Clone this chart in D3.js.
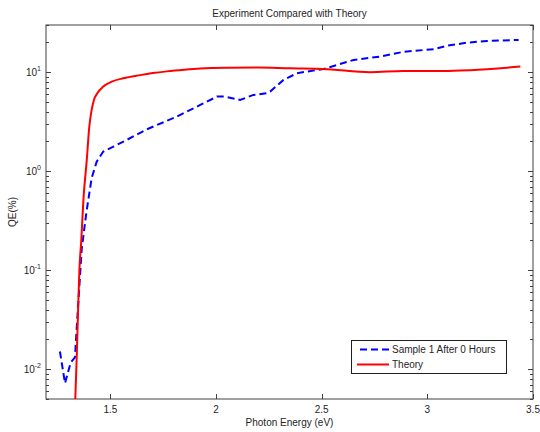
<!DOCTYPE html>
<html>
<head>
<meta charset="utf-8">
<script src="https://cdn.jsdelivr.net/npm/d3@7"></script>
<style>
  html, body { margin: 0; padding: 0; background: #fff; }
  svg { display: block; font-family: "Liberation Sans", Arial, sans-serif; }
</style>
</head>
<body>
<svg id="chart" width="540" height="432"></svg>
<script>
// Measured sample QE (%) vs photon energy (eV)
const sampleEnergy = [1.261, 1.285, 1.312, 1.332, 1.340, 1.351, 1.364, 1.384, 1.395, 1.411, 1.435, 1.466, 1.514, 1.577, 1.672, 1.814, 1.925, 2.004, 2.043, 2.114, 2.177, 2.240, 2.256, 2.319, 2.383, 2.509, 2.651, 2.777, 2.888, 3.030, 3.093, 3.188, 3.283, 3.432];
const sampleQE     = [0.0151, 0.0072, 0.0117, 0.0132, 0.0254, 0.0594, 0.163, 0.354, 0.51, 0.85, 1.25, 1.58, 1.77, 2.07, 2.65, 3.56, 4.67, 5.67, 5.67, 5.25, 5.9, 6.14, 6.37, 8.36, 9.77, 10.8, 13.3, 14.4, 16.1, 17.1, 18.5, 19.9, 20.7, 21.2];

// Theoretical QE (%) vs photon energy (eV)
const theoryEnergy = [1.330, 1.340, 1.347, 1.353, 1.362, 1.372, 1.388, 1.400, 1.411, 1.422, 1.438, 1.466, 1.506, 1.561, 1.640, 1.700, 1.767, 1.850, 1.925, 2.050, 2.200, 2.350, 2.507, 2.730, 2.886, 3.076, 3.203, 3.440];
const theoryQE     = [0.003, 0.0124, 0.04, 0.1, 0.2, 0.51, 1.30, 2.82, 4.16, 5.25, 6.14, 7.16, 8.03, 8.69, 9.35, 9.8, 10.2, 10.6, 10.9, 11.1, 11.15, 10.95, 10.8, 10.0, 10.3, 10.3, 10.5, 11.4];

const xTickValues = [1.5, 2, 2.5, 3, 3.5];
const xTickLabels = ["1.5", "2", "2.5", "3", "3.5"];
const yDecades = [-2, -1, 0, 1];

const seriesNames = ["Sample 1 After 0 Hours", "Theory"];
const titleText = "Experiment Compared with Theory";
const xLabelText = "Photon Energy (eV)";
const yLabelText = "QE(%)";

const svg = d3.select("#chart");
const margin = { left: 46, right: 7, top: 25, bottom: 33 };
const W = 540, H = 432;
const x0 = margin.left, x1 = W - margin.right, y0 = margin.top, y1 = H - margin.bottom;

const x = d3.scaleLinear().domain([1.195, 3.5]).range([x0, x1]);
const y = d3.scaleLog().domain([0.005, 30]).range([y1, y0]);

const axisColor = "#404040";
const textColor = "#262626";

svg.append("defs").append("clipPath").attr("id", "plotClip")
  .append("rect").attr("x", x0).attr("y", y0).attr("width", x1 - x0).attr("height", y1 - y0);

// Box
svg.append("rect").attr("x", x0).attr("y", y0).attr("width", x1 - x0).attr("height", y1 - y0)
  .attr("fill", "#fff").attr("stroke", axisColor).attr("stroke-width", 1);

// X ticks (bottom and top)
const xt = svg.append("g").attr("stroke", axisColor).attr("stroke-width", 1);
xTickValues.forEach(v => {
  const px = Math.round(x(v)) + 0.5;
  xt.append("line").attr("x1", px).attr("x2", px).attr("y1", y1).attr("y2", y1 - 5);
  xt.append("line").attr("x1", px).attr("x2", px).attr("y1", y0).attr("y2", y0 + 5);
});
svg.append("g").selectAll("text").data(xTickValues).join("text")
  .attr("x", d => x(d)).attr("y", y1 + 14)
  .attr("text-anchor", "middle").attr("font-size", 10).attr("fill", textColor)
  .text((d, i) => xTickLabels[i]);

// Y ticks: major at decades, minor at 2..9
const yt = svg.append("g").attr("stroke", axisColor).attr("stroke-width", 1);
const [ymin, ymax] = y.domain();
for (let e = -3; e <= 2; e++) {
  for (let m = 1; m <= 9; m++) {
    const v = m * Math.pow(10, e);
    if (v < ymin || v > ymax) continue;
    const py = Math.round(y(v)) + 0.5;
    const len = m === 1 ? 5 : 3;
    yt.append("line").attr("x1", x0).attr("x2", x0 + len).attr("y1", py).attr("y2", py);
    yt.append("line").attr("x1", x1).attr("x2", x1 - len).attr("y1", py).attr("y2", py);
  }
}
const yl = svg.append("g");
yDecades.forEach(e => {
  const py = y(Math.pow(10, e));
  const t = yl.append("text").attr("x", x0 - 5).attr("y", py + 4)
    .attr("text-anchor", "end").attr("font-size", 10).attr("fill", textColor);
  t.append("tspan").text("10");
  t.append("tspan").attr("dy", -5).attr("font-size", 7).text(String(e));
});

// Titles
svg.append("text").attr("x", (x0 + x1) / 2).attr("y", 17).attr("text-anchor", "middle")
  .attr("font-size", 10).attr("fill", textColor).text(titleText);
svg.append("text").attr("x", (x0 + x1) / 2).attr("y", 426).attr("text-anchor", "middle")
  .attr("font-size", 10).attr("fill", textColor).text(xLabelText);
svg.append("text").attr("transform", `translate(16,${(y0 + y1) / 2}) rotate(-90)`)
  .attr("text-anchor", "middle").attr("font-size", 10).attr("fill", textColor).text(yLabelText);

// Curves
const plot = svg.append("g").attr("clip-path", "url(#plotClip)");
const sampleData = sampleEnergy.map((e, i) => [e, sampleQE[i]]);
const theoryData = theoryEnergy.map((e, i) => [e, theoryQE[i]]);

plot.append("path").datum(sampleData)
  .attr("d", d3.line().x(d => x(d[0])).y(d => y(d[1])))
  .attr("fill", "none").attr("stroke", "#0000ff").attr("stroke-width", 2)
  .attr("stroke-dasharray", "7,4");

plot.append("path").datum(theoryData)
  .attr("d", d3.line().x(d => x(d[0])).y(d => y(d[1])).curve(d3.curveMonotoneX))
  .attr("fill", "none").attr("stroke", "#ff0000").attr("stroke-width", 2);

// Legend
const lg = svg.append("g");
lg.append("rect").attr("x", 351.5).attr("y", 340.5).attr("width", 155).attr("height", 33)
  .attr("fill", "#fff").attr("stroke", "#202020").attr("stroke-width", 1);
lg.append("line").attr("x1", 360).attr("x2", 389).attr("y1", 349.5).attr("y2", 349.5)
  .attr("stroke", "#0000ff").attr("stroke-width", 2).attr("stroke-dasharray", "7,4");
lg.append("line").attr("x1", 357).attr("x2", 389).attr("y1", 364.5).attr("y2", 364.5)
  .attr("stroke", "#ff0000").attr("stroke-width", 2);
lg.append("text").attr("x", 392).attr("y", 353).attr("font-size", 10).attr("fill", textColor).text(seriesNames[0]);
lg.append("text").attr("x", 392).attr("y", 368).attr("font-size", 10).attr("fill", textColor).text(seriesNames[1]);
</script>
</body>
</html>
